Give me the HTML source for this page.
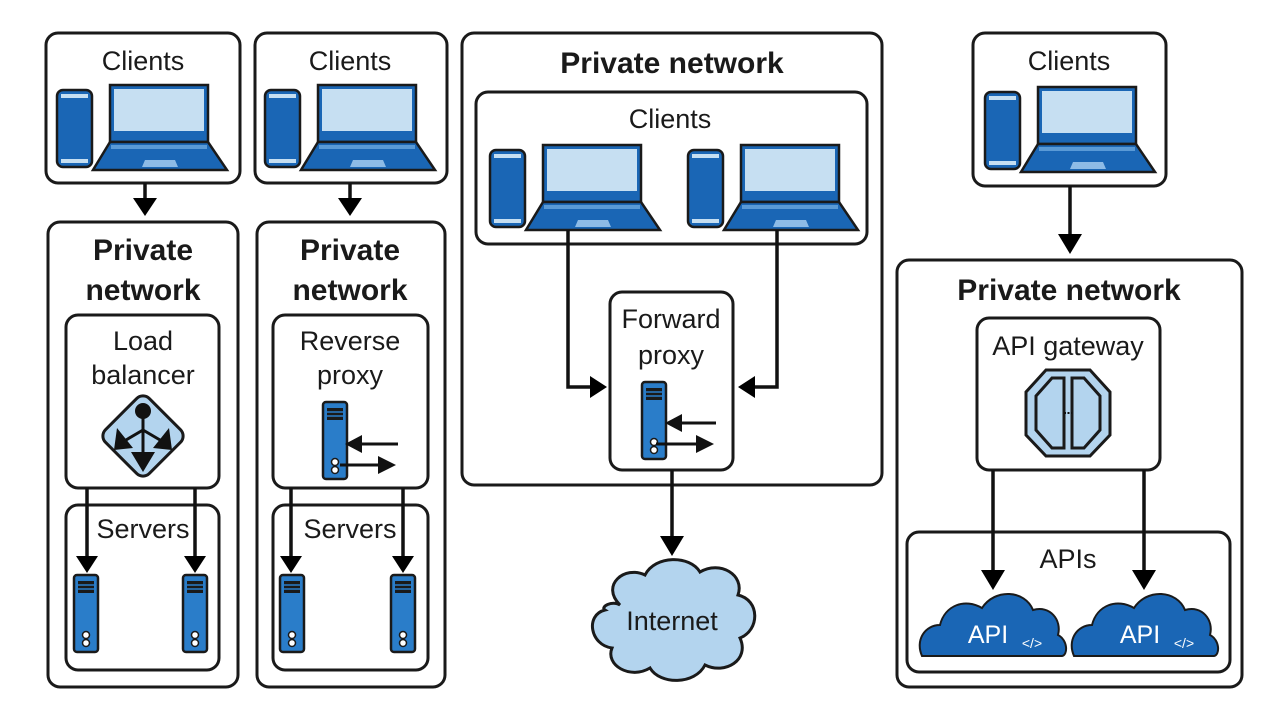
<!DOCTYPE html>
<html><head><meta charset="utf-8"><style>
html,body{margin:0;padding:0;background:#fff;}
svg{display:block;}
text{font-family:"Liberation Sans",sans-serif;fill:#1a1a1a;text-anchor:middle;}
.t{font-size:27px;}
.b{font-size:30px;font-weight:bold;}
.bx{fill:#fff;stroke:#1a1a1a;stroke-width:3;}
.ln{stroke:#111;stroke-width:3.5;fill:none;}
</style></head><body>
<svg width="1281" height="726" viewBox="0 0 1281 726" xmlns="http://www.w3.org/2000/svg">
<defs>
<g id="cl">
  <rect x="0" y="0" width="35" height="77" rx="6" fill="#1a66b5" stroke="#1a1a1a" stroke-width="2.5"/>
  <rect x="4" y="4" width="27" height="4" fill="#c6dff2"/>
  <rect x="4" y="69" width="27" height="4" fill="#c6dff2"/>
  <rect x="53" y="-5" width="98" height="57" fill="#1a66b5" stroke="#1a1a1a" stroke-width="2.5"/>
  <rect x="57" y="-1" width="90" height="42" fill="#c6dff2"/>
  <polygon points="53,52 151,52 170,80 36,80" fill="#1a66b5" stroke="#1a1a1a" stroke-width="2.5"/>
  <rect x="54" y="55" width="96" height="4" fill="#5a9ad6"/>
  <polygon points="88,70 118,70 121,77 85,77" fill="#8dbbe6"/>
</g>
<g id="srv">
  <rect x="0" y="0" width="24" height="77" rx="3" fill="#2a7dc9" stroke="#1a1a1a" stroke-width="2.5"/>
  <rect x="4" y="6" width="16" height="12" fill="#1a1a1a"/>
  <line x1="4" y1="10" x2="20" y2="10" stroke="#2a7dc9" stroke-width="1.5"/>
  <line x1="4" y1="14" x2="20" y2="14" stroke="#2a7dc9" stroke-width="1.5"/>
  <circle cx="12" cy="60" r="3.5" fill="#fff" stroke="#1a1a1a" stroke-width="1.5"/>
  <circle cx="12" cy="68" r="3.5" fill="#fff" stroke="#1a1a1a" stroke-width="1.5"/>
</g>
</defs>

<!-- Column 1 -->
<rect class="bx" x="46" y="33" width="194" height="150" rx="12"/>
<text class="t" x="143" y="70">Clients</text>
<use href="#cl" x="57" y="90"/>
<line class="ln" x1="145" y1="183" x2="145" y2="200"/><polygon points="133,198 157,198 145,216"/>
<rect class="bx" x="48" y="222" width="190" height="465" rx="12"/>
<text class="b" x="143" y="260">Private</text>
<text class="b" x="143" y="300">network</text>
<rect class="bx" x="66" y="315" width="153" height="173" rx="12"/>
<text class="t" x="143" y="350">Load</text>
<text class="t" x="143" y="384">balancer</text>
<rect x="112" y="405" width="62" height="62" rx="9" transform="rotate(45 143 436)" fill="#b3d4ee" stroke="#1a1a1a" stroke-width="3"/>
<circle cx="143" cy="411" r="8" fill="#111"/>
<line x1="143" y1="411" x2="143" y2="460" stroke="#111" stroke-width="3"/>
<polygon points="131,452 155,452 143,472" fill="#111"/>
<line x1="143" y1="430" x2="126" y2="440" stroke="#111" stroke-width="3"/>
<polygon points="117,428 133,448 114,450" fill="#111"/>
<line x1="143" y1="430" x2="160" y2="440" stroke="#111" stroke-width="3"/>
<polygon points="169,428 153,448 172,450" fill="#111"/>
<rect class="bx" x="66" y="505" width="153" height="165" rx="12"/>
<text class="t" x="143" y="538">Servers</text>
<line class="ln" x1="87" y1="488" x2="87" y2="560"/><polygon points="76,556 98,556 87,573"/>
<line class="ln" x1="195" y1="488" x2="195" y2="560"/><polygon points="184,556 206,556 195,573"/>
<use href="#srv" x="74" y="575"/><use href="#srv" x="183" y="575"/>

<!-- Column 2 -->
<rect class="bx" x="255" y="33" width="192" height="150" rx="12"/>
<text class="t" x="350" y="70">Clients</text>
<use href="#cl" x="265" y="90"/>
<line class="ln" x1="350" y1="183" x2="350" y2="200"/><polygon points="338,198 362,198 350,216"/>
<rect class="bx" x="257" y="222" width="188" height="465" rx="12"/>
<text class="b" x="350" y="260">Private</text>
<text class="b" x="350" y="300">network</text>
<rect class="bx" x="273" y="315" width="155" height="173" rx="12"/>
<text class="t" x="350" y="350">Reverse</text>
<text class="t" x="350" y="384">proxy</text>
<use href="#srv" x="323" y="402"/>
<line x1="348" y1="444" x2="398" y2="444" stroke="#111" stroke-width="3"/><polygon points="345,444 362,435 362,453" fill="#111"/>
<line x1="340" y1="465" x2="380" y2="465" stroke="#111" stroke-width="3"/><polygon points="396,465 378,456 378,474" fill="#111"/>
<rect class="bx" x="273" y="505" width="155" height="165" rx="12"/>
<text class="t" x="350" y="538">Servers</text>
<line class="ln" x1="291" y1="488" x2="291" y2="560"/><polygon points="280,556 302,556 291,573"/>
<line class="ln" x1="403" y1="488" x2="403" y2="560"/><polygon points="392,556 414,556 403,573"/>
<use href="#srv" x="280" y="575"/><use href="#srv" x="391" y="575"/>

<!-- Column 3 -->
<rect class="bx" x="462" y="33" width="420" height="452" rx="12"/>
<text class="b" x="672" y="73">Private network</text>
<rect class="bx" x="476" y="92" width="391" height="152" rx="12"/>
<text class="t" x="670" y="128">Clients</text>
<use href="#cl" x="490" y="150"/>
<use href="#cl" x="688" y="150"/>
<polyline class="ln" points="568,230 568,387 592,387"/><polygon points="590,376 590,398 607,387"/>
<polyline class="ln" points="777,230 777,387 753,387"/><polygon points="755,376 755,398 738,387"/>
<rect class="bx" x="610" y="292" width="123" height="178" rx="12"/>
<text class="t" x="671" y="328">Forward</text>
<text class="t" x="671" y="364">proxy</text>
<use href="#srv" x="642" y="382"/>
<line x1="668" y1="423" x2="716" y2="423" stroke="#111" stroke-width="3"/><polygon points="665,423 682,414 682,432" fill="#111"/>
<line x1="656" y1="444" x2="698" y2="444" stroke="#111" stroke-width="3"/><polygon points="714,444 696,435 696,453" fill="#111"/>
<line class="ln" x1="672" y1="470" x2="672" y2="538"/><polygon points="660,536 684,536 672,556"/>
<path d="M620,605 C600,585 625,565 645,575 C655,555 690,555 700,572 C720,560 745,575 738,595 C760,600 760,630 740,638 C750,660 725,675 705,665 C695,685 660,685 650,668 C630,680 605,665 612,648 C590,645 585,615 605,610 C600,607 612,600 620,605 Z" fill="#b3d4ee" stroke="#1a1a1a" stroke-width="3"/>
<text class="t" x="672" y="630">Internet</text>

<!-- Column 4 -->
<rect class="bx" x="973" y="33" width="193" height="153" rx="12"/>
<text class="t" x="1069" y="70">Clients</text>
<use href="#cl" x="985" y="92"/>
<line class="ln" x1="1070" y1="186" x2="1070" y2="236"/><polygon points="1058,234 1082,234 1070,254"/>
<rect class="bx" x="897" y="260" width="345" height="427" rx="12"/>
<text class="b" x="1069" y="300">Private network</text>
<rect class="bx" x="977" y="318" width="183" height="152" rx="12"/>
<text class="t" x="1068" y="355">API gateway</text>
<polygon points="1046,370 1090,370 1110,392 1110,435 1090,456 1046,456 1026,435 1026,392" fill="#b3d4ee" stroke="#1a1a1a" stroke-width="3"/>
<path d="M1052,378 L1064,378 L1064,448 L1052,448 L1036,430 L1036,396 Z" fill="#b3d4ee" stroke="#1a1a1a" stroke-width="3"/>
<path d="M1084,378 L1072,378 L1072,448 L1084,448 L1100,430 L1100,396 Z" fill="#b3d4ee" stroke="#1a1a1a" stroke-width="3"/>
<line x1="1064" y1="413" x2="1072" y2="413" stroke="#111" stroke-width="2" stroke-dasharray="2,1.5"/>
<rect class="bx" x="907" y="532" width="323" height="140" rx="12"/>
<text class="t" x="1068" y="568">APIs</text>
<line class="ln" x1="993" y1="470" x2="993" y2="572"/><polygon points="981,570 1005,570 993,590"/>
<line class="ln" x1="1144" y1="470" x2="1144" y2="572"/><polygon points="1132,570 1156,570 1144,590"/>
<path d="M922,656 C915,640 925,625 940,625 C945,605 965,598 982,608 C995,588 1025,590 1033,610 C1050,605 1062,620 1058,635 C1068,640 1068,655 1062,656 Z" fill="#1a66b5" stroke="#1a1a1a" stroke-width="2"/>
<text x="988" y="643" style="font-size:25px;fill:#fff">API</text>
<text x="1032" y="648" style="font-size:14px;fill:#fff">&lt;/&gt;</text>
<path d="M1074,656 C1067,640 1077,625 1092,625 C1097,605 1117,598 1134,608 C1147,588 1177,590 1185,610 C1202,605 1214,620 1210,635 C1220,640 1220,655 1214,656 Z" fill="#1a66b5" stroke="#1a1a1a" stroke-width="2"/>
<text x="1140" y="643" style="font-size:25px;fill:#fff">API</text>
<text x="1184" y="648" style="font-size:14px;fill:#fff">&lt;/&gt;</text>
</svg>
</body></html>
